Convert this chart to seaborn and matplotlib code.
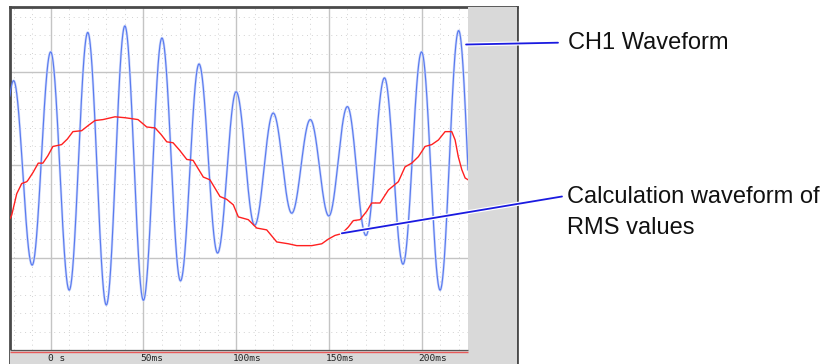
"""
Recorder screen: CH1 waveform with its RMS calculation waveform.
"""
import numpy as np
import pandas as pd
import matplotlib
matplotlib.use("Agg")
import matplotlib.pyplot as plt
import matplotlib.patheffects as pe
import seaborn as sns

# --- data (time in ms, amplitude in divisions) ---
# CH1 extremes: alternating troughs and peaks every half cycle (50 Hz)
ch1_t = [-30, -20, -10, 0, 10, 20, 30, 40, 50, 60, 70, 80, 90, 100, 110,
         120, 130, 140, 150, 160, 170, 180, 190, 200, 210, 220, 230]
ch1_v = [-0.86, 0.91, -1.08, 1.22, -1.35, 1.43, -1.51, 1.50, -1.46, 1.37,
         -1.25, 1.09, -0.95, 0.79, -0.65, 0.56, -0.52, 0.49, -0.55, 0.63,
         -0.76, 0.94, -1.07, 1.22, -1.35, 1.45, -1.51]

# RMS calculation waveform
rms_t = [-22.0, -21.0, -18.3, -15.6, -12.9, -12.1, -9.5, -6.7, -4.2, -1.5,
         1.2, 5.9, 9.0, 12.0, 16.7, 20.5, 23.9, 28.2, 34.7, 40.1, 43.7, 47.1,
         51.8, 56.3, 59.5, 62.6, 66.0, 69.5, 73.4, 76.8, 82.3, 85.9, 91.3,
         94.9, 98.5, 101.2, 106.6, 111.1, 116.5, 121.9, 128.2, 132.7, 140.8,
         146.2, 149.7, 153.3, 157.0, 160.5, 163.2, 166.8, 170.4, 173.1, 177.6,
         182.1, 187.5, 191.1, 194.7, 198.3, 201.9, 205.5, 209.1, 212.7, 216.3,
         218.1, 219.8, 221.7, 223.5, 225.1]
rms_v = [-0.58, -0.54, -0.31, -0.20, -0.18, -0.16, -0.08, 0.02, 0.02, 0.10,
         0.20, 0.22, 0.28, 0.36, 0.37, 0.43, 0.48, 0.49, 0.52, 0.51, 0.50,
         0.49, 0.41, 0.40, 0.33, 0.25, 0.24, 0.16, 0.06, 0.05, -0.13, -0.16,
         -0.34, -0.37, -0.43, -0.56, -0.59, -0.68, -0.70, -0.83, -0.85,
         -0.87, -0.87, -0.85, -0.80, -0.76, -0.74, -0.67, -0.60, -0.59, -0.50,
         -0.41, -0.41, -0.27, -0.18, -0.02, 0.02, 0.09, 0.20, 0.22, 0.27,
         0.36, 0.36, 0.27, 0.09, -0.05, -0.14, -0.16]

tick_ms = [0, 50, 100, 150, 200]
tick_labels = ["0 s", "50ms", "100ms", "150ms", "200ms"]

T_START, T_END = -22.0, 225.1     # recorded span
X_MIN, X_MAX = -22.2, 251.2       # screen span (grey beyond the record)
Y_BOT, Y_MIN, Y_MAX = -2.0, -2.147, 1.71


def smooth_extremes(t_ext, v_ext, t):
    # draw a half-cosine between successive extremes
    t_ext = np.asarray(t_ext, float)
    v_ext = np.asarray(v_ext, float)
    i = np.clip(np.searchsorted(t_ext, t, side="right") - 1, 0, len(t_ext) - 2)
    t0, t1 = t_ext[i], t_ext[i + 1]
    v0, v1 = v_ext[i], v_ext[i + 1]
    ph = (t - t0) / (t1 - t0)
    return (v0 + v1) / 2 + (v0 - v1) / 2 * np.cos(np.pi * ph)


tt = np.arange(T_START, T_END, 0.05)
ch1_df = pd.DataFrame({"t": tt, "v": smooth_extremes(ch1_t, ch1_v, tt)})
rms_df = pd.DataFrame({"t": rms_t, "v": rms_v})

sns.set_style("white")
plt.rcParams["font.family"] = ["Liberation Sans", "DejaVu Sans"]

fig = plt.figure(figsize=(8.23, 3.64), dpi=100)
W, H = 823, 364
ax = fig.add_axes([9.5 / W, 0, (516.5 - 9.5) / W, 1 - 6.5 / H])
ax.set_xlim(X_MIN, X_MAX)
ax.set_ylim(Y_MIN, Y_MAX)

# grid: dotted minor, solid major
for t in np.arange(-20, 221, 10):
    major = t % 50 == 0
    ax.vlines(t, Y_BOT, Y_MAX, color="#c4c4c4" if major else "#d2d2d2",
              lw=1.0 if major else 0.7,
              linestyles="-" if major else (0, (1, 4)), zorder=1)
for v in np.arange(-1.8, 1.61, 0.2):
    major = abs(v - round(v)) < 1e-6
    ax.hlines(v, X_MIN, T_END, color="#c4c4c4" if major else "#d2d2d2",
              lw=1.0 if major else 0.7,
              linestyles="-" if major else (0, (1, 4)), zorder=1)

# waveforms
sns.lineplot(data=ch1_df, x="t", y="v", ax=ax, color="#d0dafb", lw=1.8,
             estimator=None, sort=False, zorder=2)
sns.lineplot(data=ch1_df, x="t", y="v", ax=ax, color="#5a7bef", lw=0.85,
             estimator=None, sort=False, zorder=3)
sns.lineplot(data=rms_df, x="t", y="v", ax=ax, color="#ff2020", lw=1.0,
             estimator=None, sort=False, zorder=4)

# unused screen area and time bar
ax.axvspan(T_END, X_MAX, color="#d9d9d9", lw=0, zorder=5)
ax.axhspan(Y_MIN, Y_BOT, color="#d9d9d9", lw=0, zorder=5)
ax.hlines(Y_BOT, X_MIN, T_END, color="#555555", lw=0.9, zorder=6)
ax.hlines(Y_BOT - 1.6 / 92.7, X_MIN, T_END, color="#e85a5a", lw=1.0, zorder=6)
for t, lab in zip(tick_ms, tick_labels):
    ax.text(t - 1.6, Y_MIN + 0.006, lab, ha="left", va="bottom", fontsize=6.8,
            family="DejaVu Sans Mono", color="#222222", zorder=7)

ax.set_xticks([])
ax.set_yticks([])
ax.set_xlabel("")
ax.set_ylabel("")
for side in ["left", "right", "top"]:
    ax.spines[side].set_color("#4a4a4a")
    ax.spines[side].set_linewidth(2.0)
ax.spines["bottom"].set_visible(False)

# callouts
stroke = [pe.withStroke(linewidth=3, foreground="white")]
ax.annotate("", xy=(224.0, 1.30), xycoords="data",
            xytext=(558, H - 42.7), textcoords="figure pixels",
            arrowprops=dict(arrowstyle="-", color="#1a1ae0", lw=1.3,
                            shrinkA=0, shrinkB=0, path_effects=stroke),
            annotation_clip=False, zorder=8)
ax.annotate("", xy=(157.0, -0.737), xycoords="data",
            xytext=(562, H - 196.5), textcoords="figure pixels",
            arrowprops=dict(arrowstyle="-", color="#1a1ae0", lw=1.3,
                            shrinkA=0, shrinkB=0, path_effects=stroke),
            annotation_clip=False, zorder=8)

fig.text(568 / W, 1 - 43 / H, "CH1 Waveform", ha="left", va="center",
         fontsize=17, color="#111111")
fig.text(567 / W, 1 - 197 / H, "Calculation waveform of", ha="left",
         va="center", fontsize=17, color="#111111")
fig.text(567 / W, 1 - 228 / H, "RMS values", ha="left", va="center",
         fontsize=17, color="#111111")

fig.savefig("out.png", dpi=100)
plt.close(fig)
